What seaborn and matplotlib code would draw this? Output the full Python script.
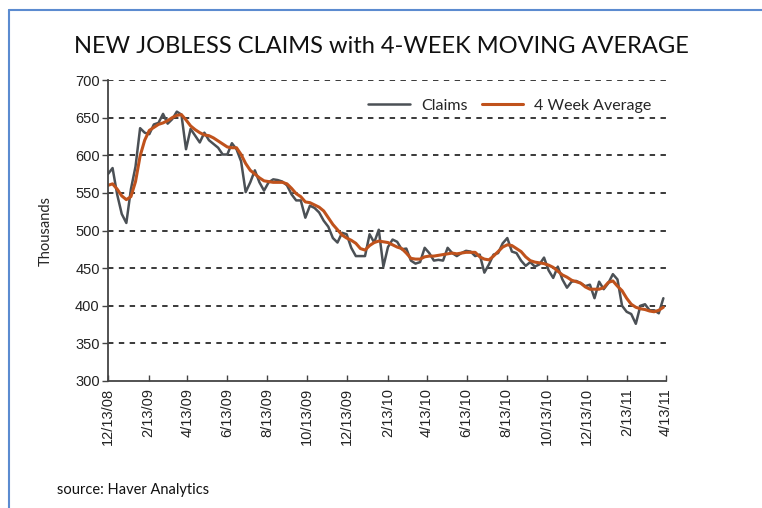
import numpy as np
import pandas as pd
import seaborn as sns
import matplotlib.pyplot as plt
from matplotlib.lines import Line2D

# weekly initial claims (thousands), 12/13/08 onwards
claims = [575, 583, 548, 522, 510, 555, 585, 636, 630, 628,
          641, 643, 655, 642, 648, 658, 654, 608, 635, 626,
          617, 630, 620, 615, 610, 601, 601, 616, 608, 592,
          551, 564, 580, 564, 553, 564, 568, 567, 565, 560,
          548, 540, 540, 517, 533, 530, 524, 513, 505, 490,
          484, 497, 495, 477, 466, 466, 466, 495, 484, 501,
          452, 478, 488, 485, 475, 476, 460, 456, 458, 477,
          470, 460, 461, 460, 477, 470, 466, 470, 473, 472,
          466, 468, 444, 455, 468, 470, 483, 490, 472, 470,
          460, 453, 458, 452, 455, 464, 447, 437, 452, 435,
          424, 432, 433, 430, 426, 428, 410, 432, 422, 430,
          442, 435, 400, 392, 389, 376, 400, 402, 394, 394,
          390, 410]

four_week_avg = [560, 562, 555, 546, 541, 545, 565, 599, 620, 633,
                 637, 641, 643, 646, 650, 653, 654, 647, 639, 634,
                 630, 627, 626, 623, 619, 615, 611, 610, 610, 601,
                 589, 580, 575, 570, 566, 565, 564, 564, 564, 562,
                 556, 549, 545, 538, 537, 534, 531, 526, 517, 508,
                 501, 494, 490, 487, 483, 476, 474, 480, 484, 486,
                 485, 484, 481, 478, 476, 470, 463, 462, 462, 465,
                 466, 466, 467, 468, 469, 470, 469, 470, 471, 471,
                 471, 465, 462, 461, 466, 472, 478, 481, 480, 476,
                 472, 465, 460, 458, 457, 456, 454, 451, 446, 441,
                 438, 434, 432, 430, 425, 422, 422, 422, 424, 431,
                 433, 426, 420, 410, 402, 398, 396, 395, 393, 392,
                 394, 398]

tick_dates = ['2008-12-13', '2009-02-13', '2009-04-13', '2009-06-13', '2009-08-13',
              '2009-10-13', '2009-12-13', '2010-02-13', '2010-04-13', '2010-06-13',
              '2010-08-13', '2010-10-13', '2010-12-13', '2011-02-13', '2011-04-13']
tick_labels = ['12/13/08', '2/13/09', '4/13/09', '6/13/09', '8/13/09',
               '10/13/09', '12/13/09', '2/13/10', '4/13/10', '6/13/10',
               '8/13/10', '10/13/10', '12/13/10', '2/13/11', '4/13/11']

df = pd.DataFrame({'date': pd.date_range('2008-12-13', periods=len(claims), freq='7D'),
                   'claims': claims, 'avg': four_week_avg})

sns.set_style('white')
plt.rcParams['font.family'] = ['Liberation Sans', 'DejaVu Sans']

fig = plt.figure(figsize=(7.62, 5.08), dpi=100)
ax = fig.add_axes([0.1417, 0.25, 0.7323, 0.5925])

sns.lineplot(data=df, x='date', y='claims', ax=ax, color='#4b5055', lw=1.8, label='Claims')
sns.lineplot(data=df, x='date', y='avg', ax=ax, color='#c0521c', lw=2.2, label='4 Week Average')

ax.set_ylim(300, 700)
ax.set_yticks(range(300, 701, 50))
ax.set_xlim(pd.Timestamp(tick_dates[0]), pd.Timestamp(tick_dates[-1]))
ax.set_xticks(pd.to_datetime(tick_dates))
ax.set_xticklabels(tick_labels, rotation=90, fontsize=10.5, color='#222222')
ax.tick_params(axis='y', labelsize=10.5, labelcolor='#222222', direction='out', length=4,
               width=1, color='#444444', left=True, pad=2)
ax.tick_params(axis='x', direction='in', length=4, width=1, color='#444444', bottom=True, pad=5)

for v in range(350, 701, 50):
    ax.axhline(v, color='#2a2a2a', lw=1.3, ls=(0, (3, 3)), zorder=0)

for s in ['top', 'right']:
    ax.spines[s].set_visible(False)
for s in ['left', 'bottom']:
    ax.spines[s].set_color('#444444')
    ax.spines[s].set_linewidth(1.3)

ax.set_xlabel('')
ax.set_ylabel('Thousands', family=['Lato', 'DejaVu Sans'], fontsize=10.5, labelpad=16)

ax.legend(loc='upper right', bbox_to_anchor=(1.0, 0.985), ncol=2, frameon=False,
          handlelength=2.6, columnspacing=0.9, handletextpad=0.7,
          prop={'family': 'Lato', 'size': 11.5})

fig.text(0.501, 0.909, 'NEW JOBLESS CLAIMS with 4-WEEK MOVING AVERAGE',
         family=['Lato', 'DejaVu Sans'], fontsize=17, ha='center', va='center', color='#111111')
fig.text(0.075, 0.035, 'source: Haver Analytics', family=['Lato', 'DejaVu Sans'],
         fontsize=10.5, ha='left', va='center', color='#111111')

# blue frame on the left and top edges
fig.add_artist(Line2D([0.012, 0.012], [0.0, 0.98], transform=fig.transFigure, color='#5b8bd0', lw=1.5))
fig.add_artist(Line2D([0.012, 1.0], [0.98, 0.98], transform=fig.transFigure, color='#5b8bd0', lw=1.5))

fig.savefig('out.png', dpi=100)
